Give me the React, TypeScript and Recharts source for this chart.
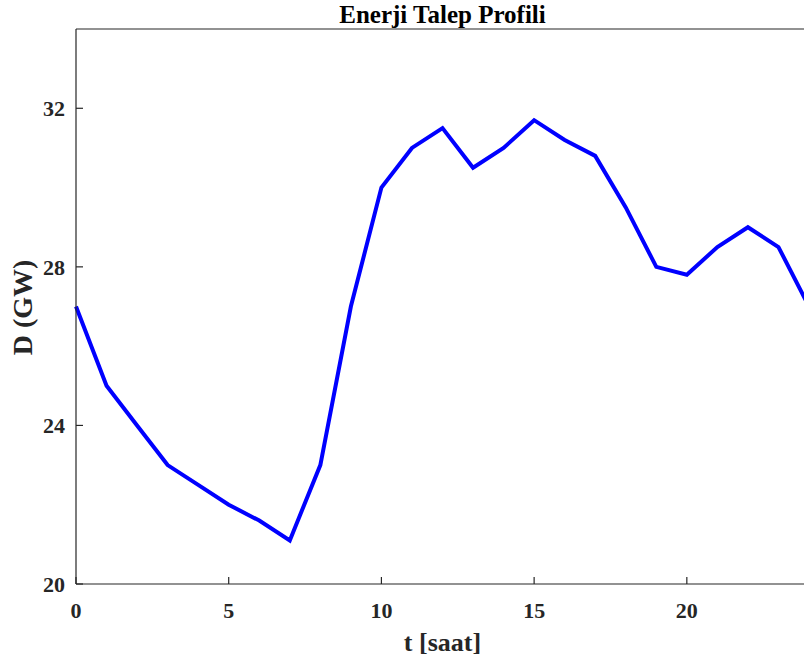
import { LineChart, Line, XAxis, YAxis } from "recharts"

// hourly demand profile
const hours = [0, 1, 2, 3, 4, 5, 6, 7, 8, 9, 10, 11, 12, 13, 14, 15, 16, 17, 18, 19, 20, 21, 22, 23, 24]
const demand = [
  27, 25, 24, 23, 22.5, 22, 21.6, 21.1, 23, 27, 30, 31, 31.5, 30.5, 31, 31.7, 31.2, 30.8, 29.5, 28, 27.8, 28.5,
  29, 28.5, 27,
]
const xTicks = [0, 5, 10, 15, 20]
const yTicks = [20, 24, 28, 32]

const title = "Enerji Talep Profili"
const xLabel = "t [saat]"
const yLabel = "D (GW)"

const FONT = "'Liberation Serif', 'Times New Roman', serif"
const INK = "#262626"

const data = hours.map((h, i) => ({ t: h, d: demand[i] }))

function TitleText(props: any) {
  const { viewBox } = props
  return (
    <text
      x={viewBox.x + viewBox.width / 2}
      y={viewBox.y - 5}
      textAnchor="middle"
      fontFamily={FONT}
      fontWeight="bold"
      fontSize={25}
      fill="#000"
    >
      {title}
    </text>
  )
}

function XLabelText(props: any) {
  const { viewBox } = props
  return (
    <text
      x={viewBox.x + viewBox.width / 2}
      y={651}
      textAnchor="middle"
      fontFamily={FONT}
      fontWeight="bold"
      fontSize={26}
      fill={INK}
    >
      {xLabel}
    </text>
  )
}

function YLabelText(props: any) {
  const { viewBox } = props
  const x = viewBox.x + 32
  const y = viewBox.y + viewBox.height / 2 + 1
  return (
    <text
      x={x}
      y={y}
      transform={`rotate(-90, ${x}, ${y})`}
      textAnchor="middle"
      fontFamily={FONT}
      fontWeight="bold"
      fontSize={28}
      fill={INK}
    >
      {yLabel}
    </text>
  )
}

const tickStyle = { fill: INK, fontSize: 22, fontWeight: "bold", fontFamily: FONT }
const axisLine = { stroke: INK, strokeWidth: 1.2 }
const tickLine = { stroke: INK, strokeWidth: 1.2 }

export default function App() {
  return (
    <div style={{ position: "absolute", left: 0, top: 0, width: 804, height: 662, overflow: "hidden", background: "#fff" }}>
      <LineChart width={820} height={662} data={data} margin={{ top: 28, right: 10, bottom: 0, left: 0 }}>
        <XAxis
          dataKey="t"
          type="number"
          domain={[0, 24]}
          ticks={xTicks}
          interval={0}
          height={78}
          tickSize={-7}
          tickMargin={25}
          tick={tickStyle}
          axisLine={axisLine}
          tickLine={tickLine}
          label={<XLabelText />}
        />
        <XAxis
          xAxisId="top"
          orientation="top"
          dataKey="t"
          type="number"
          domain={[0, 24]}
          ticks={xTicks}
          interval={0}
          height={1}
          tickSize={-7}
          tick={false}
          axisLine={axisLine}
          tickLine={tickLine}
          label={<TitleText />}
        />
        <YAxis
          type="number"
          domain={[20, 34]}
          ticks={yTicks}
          interval={0}
          width={76}
          tickSize={-7}
          tickMargin={18}
          tick={tickStyle}
          axisLine={axisLine}
          tickLine={tickLine}
          label={<YLabelText />}
        />
        <YAxis
          yAxisId="right"
          orientation="right"
          type="number"
          domain={[20, 34]}
          ticks={yTicks}
          interval={0}
          width={1}
          tickSize={-7}
          tick={false}
          axisLine={axisLine}
          tickLine={tickLine}
        />
        <Line
          dataKey="d"
          type="linear"
          stroke="#0000ff"
          strokeWidth={4}
          dot={false}
          activeDot={false}
          isAnimationActive={false}
        />
      </LineChart>
    </div>
  )
}
